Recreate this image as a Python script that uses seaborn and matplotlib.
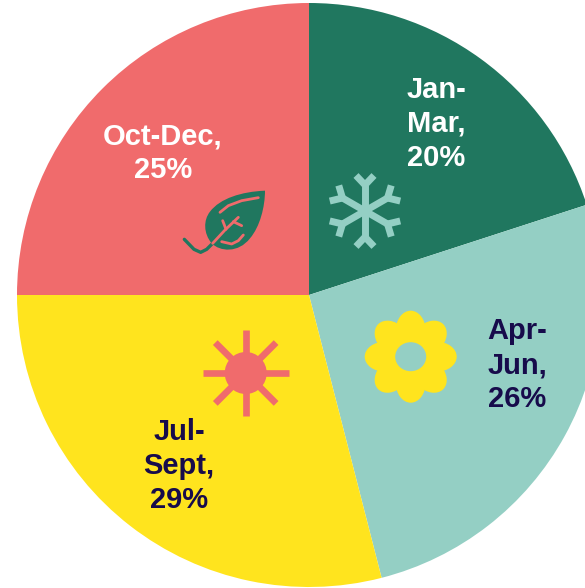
import numpy as np
import matplotlib
matplotlib.use("Agg")
import matplotlib.pyplot as plt
import seaborn as sns
from matplotlib.patches import Circle, Ellipse, PathPatch
from matplotlib.path import Path

# data
periods = ["Jan-\nMar,", "Apr-\nJun,", "Jul-\nSept,", "Oct-Dec,"]
shares = [20, 26, 29, 25]
colours = ["#20775F", "#94CFC4", "#FFE41E", "#F06B6C"]
text_colours = ["white", "#170B4B", "#170B4B", "white"]
label_pos = [(436, 124), (517, 365), (179, 466), (163, 153)]

W, H = 585, 588
sns.set_theme(style="white", palette=sns.color_palette(colours))
plt.rcParams["font.family"] = ["Liberation Sans", "DejaVu Sans"]

fig = plt.figure(figsize=(W / 100, H / 100), dpi=100, facecolor="white")
ax = fig.add_axes([0, 0, 1, 1])
Y = lambda y: H - y
P = lambda pts: [(x, H - y) for x, y in pts]

ax.pie(shares, colors=sns.color_palette(colours), startangle=90, counterclock=False,
       center=(309, Y(295)), radius=292, frame=True,
       wedgeprops=dict(edgecolor="none", linewidth=0))
ax.set_xlim(0, W)
ax.set_ylim(0, H)
ax.set_aspect("equal")
ax.axis("off")

for p, s, c, (x, y) in zip(periods, shares, text_colours, label_pos):
    ax.text(x, Y(y), f"{p}\n{s}%", color=c, fontsize=21, fontweight="bold",
            ha="center", va="center", linespacing=1.27)

# snowflake icon
cx, cy = 365, 211
col = colours[1]
for a in np.deg2rad(np.arange(30, 360, 60)):
    d = np.array([np.cos(a), np.sin(a)])
    n = np.array([-d[1], d[0]])
    c0 = np.array([cx, cy])
    ax.plot(*zip(*P([c0, c0 + d * 28])), color=col, lw=5, solid_capstyle="butt")
    b = c0 + d * 26
    for sgn in (-1, 1):
        e = b + d * 9.5 + sgn * n * 9
        ax.plot(*zip(*P([b, e])), color=col, lw=5, solid_capstyle="butt")

# leaf icon
Z = lambda zx, zy: (170 + zx / 3, 170 + zy / 3)
green, coral = colours[0], colours[3]
verts = P([Z(285, 62)])
codes = [Path.MOVETO]
ctrl = [((215, 65), (150, 85), (120, 125)), ((100, 150), (100, 190), (125, 220)),
        ((150, 245), (205, 250), (240, 205)), ((270, 170), (285, 110), (285, 62))]
for c1, c2, e in ctrl:
    verts += P([Z(*c1), Z(*c2), Z(*e)])
    codes += [Path.CURVE4] * 3
ax.add_patch(PathPatch(Path(verts, codes), fc=green, ec="none", zorder=3))
stem = [(43, 208), (72, 238), (92, 247), (110, 238), (128, 220)]
ax.plot(*zip(*P([Z(*q) for q in stem])), color=green, lw=2.4, solid_capstyle="round", zorder=3)
for seg in ([(128, 220), (165, 180), (205, 142)], [(158, 152), (168, 178)], [(190, 155), (215, 167)],
            [(150, 127), (175, 107), (215, 92), (265, 83)], [(155, 215), (185, 222), (205, 212), (220, 195)]):
    ax.plot(*zip(*P([Z(*q) for q in seg])), color=coral, lw=2.0, solid_capstyle="round", zorder=4)

# sun icon
sx, sy = 245.7, 373
for a in np.deg2rad(np.arange(0, 360, 45)):
    d = np.array([np.cos(a), np.sin(a)]) * 43
    ax.plot([sx, sx + d[0]], [Y(sy), Y(sy) + d[1]], color=coral, lw=4.8, solid_capstyle="butt", zorder=3)
ax.add_patch(Circle((sx, Y(sy)), 21, fc=coral, ec="none", zorder=4))

# flower icon
fx, fy = 410.7, 356.7
for deg in range(0, 360, 45):
    a = np.deg2rad(deg)
    ax.add_patch(Ellipse((fx + 26 * np.cos(a), Y(fy) + 26 * np.sin(a)), 40, 30, angle=deg,
                         fc=colours[2], ec="none", zorder=3))
ax.add_patch(Circle((fx, Y(fy)), 26, fc=colours[2], ec="none", zorder=3))
ax.add_patch(Ellipse((fx, Y(fy)), 31, 29, fc=colours[1], ec="none", zorder=4))

fig.savefig("out.png", dpi=100)
